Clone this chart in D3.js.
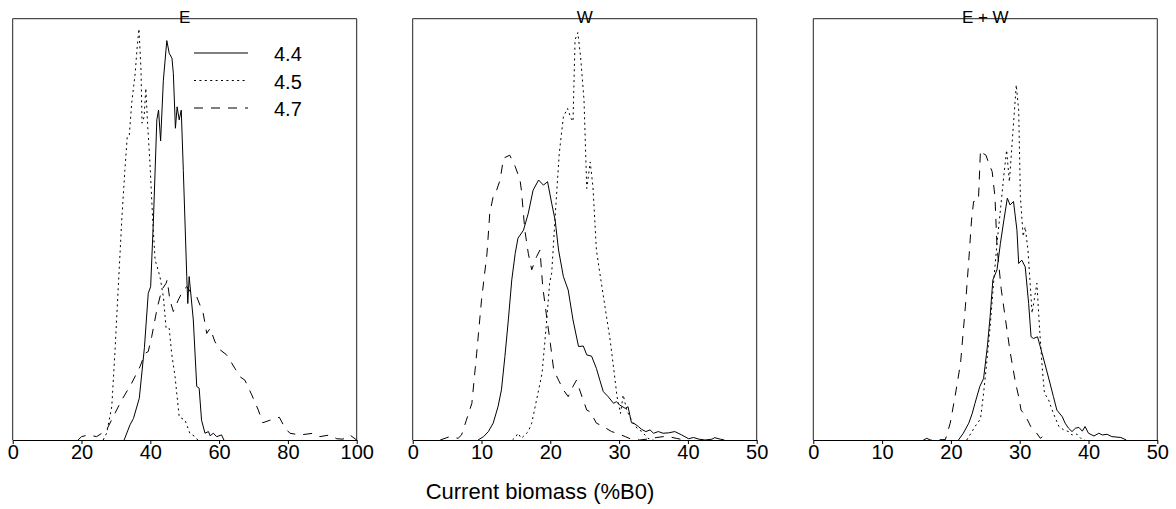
<!DOCTYPE html>
<html lang="en">
<head>
  <meta charset="UTF-8">
  <title>Current biomass distributions</title>
  <script src="https://d3js.org/d3.v7.min.js"></script>
  <style>
    body { margin: 0; background: #fff; font-family: "Liberation Sans", Arial, sans-serif; }
    .tick line { stroke: #000; }
    .domain { stroke: #000; }
  </style>
</head>
<body>
<div id="chart"></div>
<script>
// panels and legend
const panelTitles = ["E", "W", "E + W"];
const seriesNames = ["4.4", "4.5", "4.7"];
const xMax = [100, 50, 50];
const xTicks = [[0, 20, 40, 60, 80, 100], [0, 10, 20, 30, 40, 50], [0, 10, 20, 30, 40, 50]];

// [current biomass %B0, relative frequency (% of panel height)]
const e44 = [[32.4,0],[34.1,3.6],[35.1,5.1],[36.8,9.9],[38.3,22],[39.4,34.8],[40.1,36.4],[40.9,52],[41.9,76],[42.4,78.3],[43.0,71],[43.8,85.4],[44.8,94.8],[45.5,91.8],[46.3,90.6],[46.7,87],[47.3,74],[47.8,79.1],[48.4,76],[49.0,78.3],[49.6,64],[50.6,38.8],[50.9,32.4],[51.3,38.8],[52.5,28.5],[53.5,12.7],[54.2,12.3],[54.9,4.7],[55.9,1.6],[56.9,2],[57.4,1],[58.3,1.6],[59.3,0.8],[60.7,1.2],[61.4,0]];
const e45 = [[26.3,0],[27.3,1.6],[28.8,7.9],[29.7,20.6],[30.7,36.4],[31.7,52.2],[32.6,64],[33.3,72],[33.9,72.4],[34.6,80],[35.6,87],[36.2,93.4],[36.7,97.6],[37.3,87.8],[37.6,75.2],[38.2,76.7],[38.7,83.5],[39.2,75.2],[39.9,65.7],[40.7,52.2],[41.4,42.7],[42.0,41.1],[42.8,38.8],[43.8,34],[44.6,26.5],[45.5,26.5],[46.2,20.6],[47.2,15],[48.4,5.5],[50.1,4.7],[51.5,1.6],[53.0,0.8],[53.8,0]];
const e47 = [[19,0],[20,0.8],[22,1.2],[24.4,0.8],[25.9,1.6],[27.3,2.4],[29.2,5.5],[31.7,9.5],[34.6,13.5],[37.0,17.4],[38.5,20.6],[39.4,21],[40.4,24.5],[41.9,30.9],[43.3,35.6],[44.6,37.2],[44.9,38],[45.7,33.2],[46.7,30.5],[48.1,33.2],[49.6,35.6],[50.6,36.4],[52.0,34.8],[53.5,34],[55.4,30],[56.4,25.3],[57.4,26.5],[58.8,23.3],[60.3,21.4],[62.2,20.2],[64.6,17],[66.1,15],[67.5,14.2],[69.5,10.7],[71.4,7.1],[72.7,4.1],[74.8,4.7],[77.5,5.4],[79.2,2.8],[80.6,1.6],[83.5,1.2],[87.4,1.6],[89.3,0.8],[92.2,1.2],[94.2,0.3],[96,0.2],[98,1.2],[100,0]];

const w44 = [[9.5,0],[10.3,0.8],[11.0,2],[11.7,4],[12.4,7.9],[12.9,11.9],[13.4,19.8],[13.9,28.5],[14.4,38],[14.9,44.3],[15.3,47.9],[16.1,49.8],[16.8,53.8],[17.5,59.3],[18.3,61.7],[19.0,60.5],[19.6,61.3],[20.2,56.2],[20.7,52.2],[21.2,45.1],[21.9,38.8],[22.6,35.6],[23.3,28.5],[24.1,22.2],[24.8,22.3],[25.3,20.2],[26.0,19.9],[26.7,17],[27.2,14.2],[27.7,11.5],[28.4,10.3],[29.2,8.7],[29.6,9.1],[30.1,8.3],[30.9,7.5],[31.3,7.9],[31.8,4.1],[32.3,3.8],[32.8,3.2],[33.3,2.5],[33.9,2],[34.5,2.4],[35.0,1.6],[35.7,2],[36.4,1.6],[37.2,1.7],[38.1,2],[39.1,1.2],[40.1,0.3],[40.8,0.6],[41.6,0.2],[42.5,0],[43.5,0.2],[43.9,0.55],[44.7,0.2],[45.3,0]];
const w45 = [[14.5,0],[15.0,0.8],[15.3,1.6],[15.8,0.4],[16.8,2],[17.3,4],[18.0,9.5],[18.8,15.8],[19.4,26.9],[19.9,37.2],[20.2,39.6],[20.8,55.4],[21.3,68],[21.9,76.7],[22.5,78.7],[23.0,76.4],[23.3,75.6],[23.6,95],[24.0,96.7],[24.4,91],[24.9,80.7],[25.3,59.7],[25.8,66],[26.2,60.1],[26.7,45.1],[27.2,39.6],[27.95,31.6],[28.7,23.7],[29.3,15.8],[29.7,10.3],[30.2,6.3],[30.6,10.7],[31.1,7.1],[31.8,4.7],[32.6,2.8],[33.3,2],[34.2,0.4],[35,0]];
const w47 = [[4.0,0],[5.4,0.8],[6.6,0.4],[7.1,1.2],[7.8,4.7],[8.6,8.7],[9.3,20.6],[10.0,33.2],[10.8,44.3],[11.2,53.8],[11.7,57.8],[12.2,59.3],[12.7,61.7],[13.2,66.9],[14.1,67.6],[14.9,64.9],[15.6,61.7],[15.8,59.3],[16.3,49.8],[16.8,44.3],[17.3,40.4],[18.0,43.5],[18.5,45.1],[18.9,36.4],[19.4,30.1],[20.0,23],[20.5,16.6],[21.2,14.2],[21.9,11.9],[22.6,10.3],[23.3,12.7],[23.8,14.2],[24.6,10.3],[25.3,7.1],[25.8,6.7],[26.7,4],[27.7,3.2],[28.9,2],[29.7,1.6],[30.9,0.8],[31.6,0.3],[33.0,0],[34.5,0.3],[35.5,0.6],[36.9,0.9],[38.3,0.4],[39.5,0]];

const ew44 = [[21.1,0],[21.8,1.6],[22.6,4],[23.1,6.3],[23.5,8.7],[24.2,12.7],[24.75,14.6],[25.3,22.2],[25.7,29.3],[26.1,38],[26.7,40.4],[27.2,46.7],[27.7,52.2],[28.2,57.4],[28.6,55.8],[29.1,56.6],[29.6,49.8],[29.85,41.9],[30.3,42.7],[30.8,41.1],[31.3,32.4],[31.65,24.5],[32.0,24.1],[32.6,24.5],[33.25,20.6],[33.9,16.6],[34.4,13.5],[34.9,10.3],[35.4,7.1],[36.2,5.5],[36.6,4],[37.1,2.8],[37.6,2],[38.1,2.8],[38.6,3],[39.1,2.1],[39.5,3.2],[40.0,1.6],[40.8,0.95],[41.5,1.6],[42.0,1.2],[42.7,1.35],[43.4,0.8],[44.7,0.6],[45.5,0]];
const ew45 = [[22.3,0],[23.0,1.8],[23.5,3.2],[24.3,5],[24.75,11.1],[25.2,18.2],[25.7,26.9],[26.2,37.2],[26.7,46.7],[27.2,54.6],[27.7,62.9],[28.1,68.8],[28.5,61.3],[29.5,84.3],[29.85,78.3],[30.1,57.8],[30.5,48.3],[30.8,50.6],[31.2,45.1],[31.8,30.1],[32.1,33.2],[32.5,37.2],[32.9,26.1],[33.3,16.6],[33.6,11.1],[34.2,9.5],[34.9,6.3],[35.7,3.2],[36.4,2.4],[37.1,2],[37.6,1.2],[38.3,1.4],[39.0,0.2],[39.5,0]];
const ew47 = [[16.0,0],[16.5,0.4],[17.0,0],[19.2,0.1],[19.9,4],[20.6,10.3],[21.4,18.2],[22.1,31.6],[22.6,42.7],[23.0,52.2],[23.3,56.6],[24.0,56.8],[24.3,68.8],[24.7,68],[25.1,67.6],[25.5,65.7],[26.0,63.7],[26.4,57.8],[26.7,45.9],[27.3,36],[27.9,29],[28.6,21],[29.4,13.5],[29.85,10.3],[30.2,7.1],[30.8,5.9],[31.6,3.2],[32.3,2],[33.0,0.4],[33.4,0.9],[34,0]];

const panelSeries = [[e44, e45, e47], [w44, w45, w47], [ew44, ew45, ew47]];
const dashes = [null, "2,3.4", "9,8"];

const width = 1176, height = 509;
const panelLeft = [12.7, 412.7, 813.3];
const panelW = 344;
const plotTop = 18.7, plotBottom = 440;

const svg = d3.select("#chart").append("svg")
  .attr("width", width)
  .attr("height", height);

const y = d3.scaleLinear().domain([0, 100]).range([plotBottom, plotTop]);

panelTitles.forEach((title, p) => {
  const x = d3.scaleLinear().domain([0, xMax[p]]).range([panelLeft[p], panelLeft[p] + panelW]);
  const g = svg.append("g");

  // frame (left, top, right); the bottom side is the axis
  g.append("path")
    .attr("d", `M${panelLeft[p]},${plotBottom}V${plotTop}H${panelLeft[p] + panelW}V${plotBottom}`)
    .attr("fill", "none")
    .attr("stroke", "#222")
    .attr("stroke-width", 1);

  const line = d3.line().x(d => x(d[0])).y(d => y(d[1]));
  panelSeries[p].forEach((s, i) => {
    g.append("path")
      .datum(s)
      .attr("d", line)
      .attr("fill", "none")
      .attr("stroke", "#000")
      .attr("stroke-width", 1)
      .attr("stroke-dasharray", dashes[i]);
  });

  const axis = g.append("g")
    .attr("transform", `translate(0,${plotBottom})`)
    .call(d3.axisBottom(x).tickValues(xTicks[p]).tickSizeInner(4).tickSizeOuter(0).tickPadding(1));
  axis.selectAll("text")
    .attr("font-family", "Liberation Sans, Arial, sans-serif")
    .attr("font-size", 20)
    .attr("fill", "#000");

  g.append("text")
    .attr("x", panelLeft[p] + panelW / 2)
    .attr("y", 23)
    .attr("text-anchor", "middle")
    .attr("font-size", 17)
    .text(title);
});

// legend in first panel
const legend = svg.append("g");
seriesNames.forEach((name, i) => {
  const ly = 53 + i * 27.5;
  legend.append("line")
    .attr("x1", 194).attr("x2", 248)
    .attr("y1", ly).attr("y2", ly)
    .attr("stroke", "#000")
    .attr("stroke-width", 1)
    .attr("stroke-dasharray", dashes[i]);
  legend.append("text")
    .attr("x", 274)
    .attr("y", ly + 8)
    .attr("font-size", 20)
    .text(name);
});

svg.append("text")
  .attr("x", 540)
  .attr("y", 499)
  .attr("text-anchor", "middle")
  .attr("font-size", 22)
  .text("Current biomass (%B0)");
</script>
</body>
</html>
